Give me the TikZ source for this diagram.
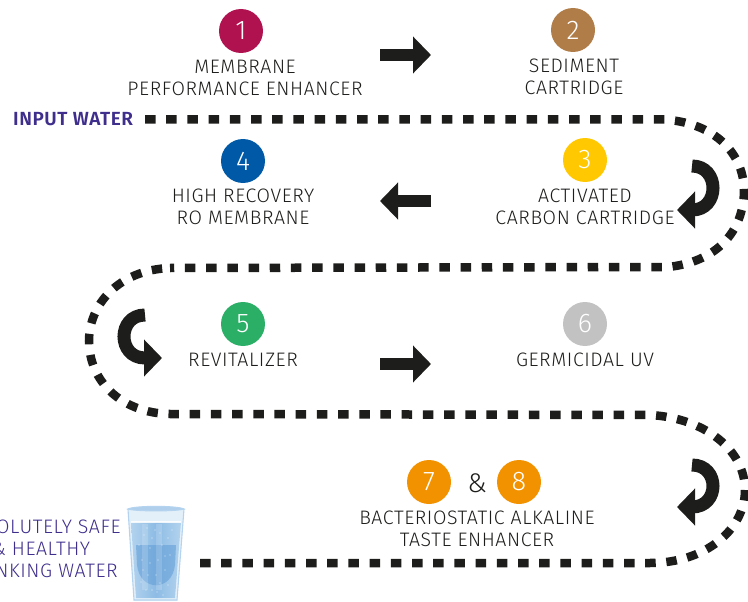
\documentclass[tikz,border=0pt]{standalone}
\usepackage{fontspec}
\setmainfont{Fira Sans}[UprightFont=* Light,BoldFont=* SemiBold]
\newfontfamily\labfont{Fira Sans}[UprightFont=* Light,BoldFont=* SemiBold,LetterSpace=3]
\usetikzlibrary{arrows.meta}
\definecolor{ink}{HTML}{1D1D1B}
\definecolor{purp}{HTML}{3F2E8C}
\definecolor{cA}{HTML}{B0124F}
\definecolor{cB}{HTML}{B07C48}
\definecolor{cC}{HTML}{FFC800}
\definecolor{cD}{HTML}{0059A6}
\definecolor{cE}{HTML}{2BAE66}
\definecolor{cF}{HTML}{C2C2C2}
\definecolor{cG}{HTML}{F39200}
\definecolor{wA}{HTML}{8DBBE4}
\definecolor{wB}{HTML}{5E9CD6}
\definecolor{wC}{HTML}{B3D3EE}
\tikzset{
 num/.style={circle,minimum size=44pt,inner sep=0pt,text=white,font=\fontsize{27}{27}\selectfont},
 lab/.style={align=center,text=ink,inner sep=0pt,font=\labfont\fontsize{19.5}{22}\selectfont},
 flow/.style={draw=ink,line width=12.5pt,-{Triangle[length=18pt,width=36pt]}},
 turn/.style={draw=ink,line width=13pt,-{Triangle[length=18pt,width=36pt]}},
 route/.style={draw=ink,line width=8.5pt,dash pattern=on 10.5pt off 10.7pt},
 bub/.style={fill=white,opacity=.7,draw=none}
}
\begin{document}
\begin{tikzpicture}[x=1pt,y=-1pt]
\useasboundingbox (0,0) rectangle (748,602);
\clip (0,0) rectangle (748,602);
% nodes
\node[num,fill=cA] (n1) at (241,31) {1};
\node[num,fill=cB] (n2) at (573,30) {2};
\node[num,fill=cC] (n3) at (585,160) {3};
\node[num,fill=cD] (n4) at (243,161) {4};
\node[num,fill=cE] (n5) at (243,324) {5};
\node[num,fill=cF] (n6) at (585,324) {6};
\node[num,fill=cG] (n7) at (429,482) {7};
\node[num,fill=cG] (n8) at (519,482) {8};
\node[text=ink,inner sep=0pt,font=\fontsize{27}{27}\selectfont] (amp) at (477,483) {\&};
\node[lab,anchor=north] (t1) at (245,60) {MEMBRANE\\PERFORMANCE ENHANCER};
\node[lab,anchor=north] (t2) at (574,59) {SEDIMENT\\CARTRIDGE};
\node[lab,anchor=north] (t3) at (585,189) {ACTIVATED\\CARBON CARTRIDGE};
\node[lab,anchor=north] (t4) at (243,189) {HIGH RECOVERY\\RO MEMBRANE};
\node[lab,anchor=north] (t5) at (243,353) {REVITALIZER};
\node[lab,anchor=north] (t6) at (585,353) {GERMICIDAL UV};
\node[lab,anchor=north] (t7) at (477,511) {BACTERIOSTATIC ALKALINE\\TASTE ENHANCER};
\node[anchor=west,inner sep=0pt,text=purp,font=\labfont\fontsize{19}{19}\selectfont\bfseries] (inw) at (13,119.5) {INPUT WATER};
\node[anchor=north,align=center,inner sep=0pt,text=purp,font=\labfont\fontsize{19.5}{22}\selectfont] (out) at (41,520) {ABSOLUTELY SAFE\\\& HEALTHY\\DRINKING WATER};
% route, in two runs that meet on the second long line
\coordinate (r0) at (145,119.5);
\coordinate (r1) at (665,119.5);
\coordinate (r2) at (668,267);
\coordinate (r3) at (170,268);
\coordinate (r4) at (170,414);
\coordinate (r5) at (650,415);
\coordinate (r6) at (650,563);
\coordinate (r7) at (200,563);
\draw[route] (r0) -- (r1) .. controls (722,124) and (744,160) .. (744,190) .. controls (744,232) and (716,262) .. (r2) -- (r3);
\draw[route] (r7) -- (r6) .. controls (705,563) and (745,530) .. (745,490) .. controls (745,450) and (705,418) .. (r5) -- (r4)
 .. controls (120,413) and (89,380) .. (89,341) .. controls (89,305) and (118,270) .. (r3);
% straight flow arrows
\coordinate (a1s) at (380,55); \coordinate (a1e) at (431,55);
\coordinate (a2s) at (431,201); \coordinate (a2e) at (380,201);
\coordinate (a3s) at (380,364); \coordinate (a3e) at (431,364);
\draw[flow] (a1s) -- (a1e);
\draw[flow] (a2s) -- (a2e);
\draw[flow] (a3s) -- (a3e);
% curved arrows
\coordinate (c1s) at (692,166); \coordinate (c1e) at (677,210);
\coordinate (c2s) at (145,315); \coordinate (c2e) at (162,358);
\coordinate (c3s) at (692,465); \coordinate (c3e) at (677,507);
\draw[turn] (c1s) .. controls (720,166) and (720,210) .. (692,210) -- (c1e);
\draw[turn] (c2s) .. controls (117,315) and (117,358) .. (145,358) -- (c2e);
\draw[turn] (c3s) .. controls (720,465) and (720,507) .. (692,507) -- (c3e);
% glass
\fill[wC!35!white] (128,509) -- (184,509) -- (177,601) -- (134,601) -- cycle;
\shade[left color=wC,right color=wC,middle color=wA] (131,522) -- (181,522) -- (175,598) -- (136,598) -- cycle;
\fill[wB,opacity=.55] (136,545) -- (176,545) -- (175,565) .. controls (172,592) and (140,592) .. (137,565) -- cycle;
\fill[white,opacity=.16] (142,524) rectangle (148,590);
\fill[white,opacity=.16] (156,524) rectangle (162,590);
\fill[white,opacity=.85] (131,521) -- (181,521) -- (181,523) -- (131,523) -- cycle;
\foreach \bx/\by in {144/535,150/548,155/530,158/560,162/545,165/570,148/575,152/590,160/583,168/538,142/560,170/555,156/575,146/590,163/595,139/545,147/528,160/533,152/538,165/556,143/570,150/563,157/592,168/585,172/530,141/582}
  \fill[bub] (\bx,\by) circle (.6pt);
\draw[wC,line width=1.1pt] (128,509) -- (134,600) -- (177,600) -- (184,509);
\draw[wC,line width=1.1pt,fill=wA!70!white] (128,509) .. controls (135,505.5) and (177,505.5) .. (184,509) .. controls (177,511.5) and (135,511.5) .. cycle;
\end{tikzpicture}
\end{document}
